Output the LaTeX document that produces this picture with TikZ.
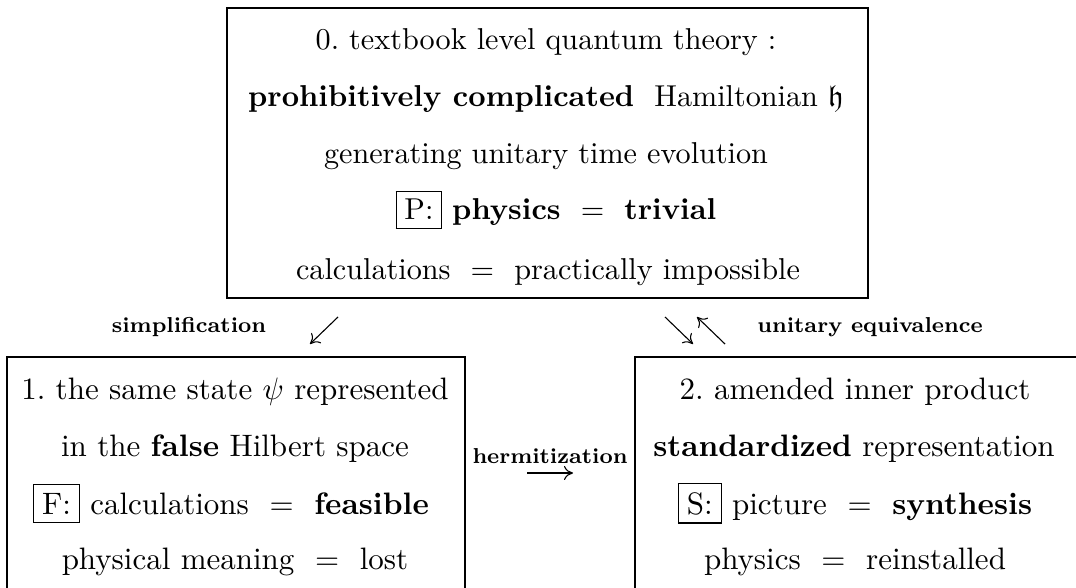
\documentclass[tikz,border=0pt]{standalone}
\usepackage{amssymb}
\usepackage{graphicx}
\usetikzlibrary{arrows.meta}
\newcommand{\sctext}[1]{\scalebox{3.02}{\frenchspacing #1}}
\newcommand{\scbot}[1]{\scalebox{3.1}{\frenchspacing #1}}
\newcommand{\sclbl}[1]{\scalebox{2.7}{\footnotesize\bfseries #1}}
\begin{document}
\begin{tikzpicture}[x=1pt,y=-1pt,
  box/.style={draw,line width=1.6pt},
  txt/.style={font=\normalsize, inner sep=0pt, anchor=base},
  lbl/.style={inner sep=0pt, anchor=base},
  arr/.style={line width=1.1pt, -{Computer Modern Rightarrow[length=9pt,width=14pt]}}
]
\useasboundingbox (0,0) rectangle (1076,588);
\clip (0,0) rectangle (1076,588);
\setlength{\fboxrule}{0.4pt}\setlength{\fboxsep}{2.5pt}
% boxes
\draw[box] (227,8) rectangle (868,298);
\draw[box] (7,357) rectangle (465,620);
\draw[box] (635,357) rectangle (1100,620);
% top box text
\node[txt] (t1) at (546,50) {\sctext{0. textbook level quantum theory :}};
\node[txt] (t2) at (546,107) {\sctext{\textbf{prohibitively complicated}\ \ Hamiltonian $\mathfrak{h}$}};
\node[txt] (t3) at (546,164) {\sctext{generating unitary time evolution}};
\node[txt] (t4) at (556,220) {\sctext{\fbox{P:}\ \textbf{physics}\ \ $=$\ \ \textbf{trivial}}};
\node[txt] (t5) at (548,279) {\sctext{calculations\ \ $=$\ \ practically impossible}};
% left box text
\node[txt] (l1) at (235,399) {\scbot{1. the same state $\psi$ represented}};
\node[txt] (l2) at (235,456) {\scbot{in the \textbf{false} Hilbert space}};
\node[txt] (l3) at (231,514) {\scbot{\fbox{F:}\ calculations\ \ $=$\ \ \textbf{feasible}}};
\node[txt] (l4) at (235,569) {\scbot{physical meaning\ \ $=$\ \ lost}};
% right box text
\node[txt] (r1) at (855,399) {\scbot{2. amended inner product}};
\node[txt] (r2) at (854,456) {\scbot{\textbf{standardized} representation}};
\node[txt] (r3) at (855,514) {\scbot{\fbox{S:}\ picture\ \ $=$\ \ \textbf{synthesis}}};
\node[txt] (r4) at (855,569) {\scbot{physics\ \ $=$\ \ reinstalled}};
% labels
\node[lbl] (simp) at (189,332) {\sclbl{simplification}};
\node[lbl] (unit) at (870,332) {\sclbl{unitary\ equivalence}};
\node[lbl] (herm) at (550,463) {\sclbl{hermitization}};
% arrows
\coordinate (s1) at (338,317); \coordinate (s2) at (310,344);
\coordinate (a1) at (665,317); \coordinate (a2) at (693,344);
\coordinate (b1) at (725,344); \coordinate (b2) at (697,317);
\coordinate (h1) at (527,473); \coordinate (h2) at (573,473);
\draw[arr] (s1) -- (s2);
\draw[arr] (a1) -- (a2);
\draw[arr] (b1) -- (b2);
\draw[arr] (h1) -- (h2);
\end{tikzpicture}
\end{document}
